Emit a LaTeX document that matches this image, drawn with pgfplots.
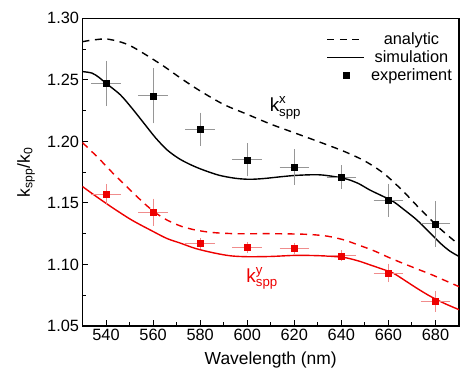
\documentclass[border=0pt]{standalone}
\usepackage{fontspec}
\setmainfont{Liberation Sans}
\usepackage{amsmath}
\usepackage{pgfplots}
\pgfplotsset{compat=1.18}
\definecolor{myred}{RGB}{238,0,0}
\definecolor{errred}{RGB}{240,140,140}
\definecolor{errgray}{RGB}{150,150,150}
\begin{document}
\begin{tikzpicture}
\path[use as bounding box] (-82.5bp,-45bp) rectangle (378.5bp,326bp);
\begin{axis}[
 scale only axis, width=376.5bp, height=307.7bp,
 at={(0,0)}, anchor=south west,
 xmin=530, xmax=690, ymin=1.05, ymax=1.30,
 xtick={540,560,580,600,620,640,660,680}, minor x tick num=1,
 ytick={1.05,1.10,1.15,1.20,1.25,1.30}, minor y tick num=1,
 tick align=inside, tick pos=left,
 major tick length=6bp, minor tick length=3.5bp,
 every tick/.style={black, line width=1bp},
 axis line style={line width=1.3bp},
 yticklabel style={/pgf/number format/.cd, fixed, fixed zerofill, precision=2},
 /pgf/number format/assume math mode=true,
 tick label style={font=\fontsize{16.4}{19}\selectfont},
 xlabel={Wavelength (nm)}, ylabel={k\textsubscript{spp}/k\textsubscript{0}},
 label style={font=\fontsize{17.5}{20}\selectfont},
 xlabel style={at={(axis description cs:0.5,0)}, anchor=base, yshift=-38bp},
 ylabel style={at={(axis description cs:-0.15,0.5)}, anchor=center},
 legend style={draw=none, fill=none, at={(rel axis cs:0.64,0.966)}, anchor=north west,
   font=\fontsize{16.4}{19}\selectfont, row sep=0.5bp, column sep=4bp},
 legend cell align=center,
 legend image code/.code={\draw[mark repeat=2,mark phase=2,#1] plot coordinates {(0bp,0bp) (18.5bp,0bp) (37bp,0bp)};},
]
\addlegendimage{black, line width=1.4bp, dash pattern=on 7bp off 5.5bp}
\addlegendentry{analytic}
\addlegendimage{black, line width=1.4bp}
\addlegendentry{simulation}
\addlegendimage{black, only marks, mark=square*, mark size=3bp}
\addlegendentry{experiment}

% analytic kx
\addplot[forget plot, black, line width=1.4bp, dash pattern=on 7bp off 5.5bp, smooth, tension=0.5] coordinates {
(530,1.281) (535,1.2825) (541,1.283) (550,1.278) (563,1.263) (572,1.251) (580,1.241)
(590,1.230) (600,1.222) (610,1.214) (620,1.207) (630,1.200) (641,1.192) (650,1.184)
(658,1.174) (666,1.160) (674,1.144) (682,1.129) (690,1.116)};
% simulation kx
\addplot[forget plot, black, line width=1.4bp, smooth, tension=0.5] coordinates {
(530,1.2567) (534,1.2555) (537,1.252) (540,1.2472) (546,1.238) (551,1.227) (556,1.215)
(561,1.203) (566,1.193) (571,1.186) (576,1.181) (581,1.177) (588,1.1725) (595,1.1700)
(601,1.1692) (607,1.1698) (614,1.1712) (621,1.1724) (631,1.1728) (641,1.170) (647,1.166)
(652,1.1606) (657,1.156) (662,1.1512) (667,1.144) (672,1.1363) (677,1.127) (682,1.1174)
(686,1.111) (690,1.1065)};
% analytic ky
\addplot[forget plot, myred, line width=1.4bp, dash pattern=on 7bp off 5.5bp, smooth, tension=0.5] coordinates {
(530,1.199) (537,1.186) (543,1.174) (550,1.161) (556,1.150) (561,1.142) (566,1.136) (572,1.131)
(578,1.128) (585,1.126) (595,1.125) (610,1.125) (625,1.1245) (634,1.123) (641,1.120) (647,1.116)
(654,1.111) (661,1.105) (670,1.098) (678,1.092) (684,1.087) (690,1.082)};
% simulation ky
\addplot[forget plot, myred, line width=1.4bp, smooth, tension=0.5] coordinates {
(530,1.1633) (536,1.155) (543,1.1458) (551,1.136) (560,1.1268) (566,1.121) (571.5,1.1174)
(578,1.113) (586,1.1093) (593,1.107) (600,1.1063) (610,1.1065) (621,1.1074) (632,1.107)
(641,1.1057) (647,1.103) (652,1.0998) (657,1.0965) (662,1.093) (667,1.087) (672,1.0808)
(677,1.075) (682,1.070) (686,1.0665) (690,1.0633)};

% experiment kx
\addplot[forget plot, only marks, mark=square*, mark size=3bp, black,
  error bars/.cd, x dir=both, x explicit, y dir=both, y explicit,
  error bar style={errgray, line width=0.8bp},
  error mark options={errgray, mark size=3bp, line width=0.8bp}]
  table[x=x, y=y, x error=ex, y error=ey] {
x y ex ey
540 1.247 5 0.016
560 1.237 5 0.020
580 1.210 5 0.011
600 1.185 5 0.011
620 1.179 5 0.012
640 1.171 5 0.007
660 1.152 5 0.011
680 1.133 5 0.016
};
% experiment ky
\addplot[forget plot, only marks, mark=square*, mark size=3bp, myred,
  error bars/.cd, x dir=both, x explicit, y dir=both, y explicit,
  error bar style={errred, line width=0.8bp},
  error mark options={errred, mark size=3bp, line width=0.8bp}]
  table[x=x, y=y, x error=ex, y error=ey] {
x y ex ey
540 1.157 5 0.006
560 1.1425 5 0.0085
580 1.117 5 0.002
600 1.114 5 0.002
620 1.113 5 0.002
640 1.107 5 0.002
660 1.093 5 0.005
680 1.070 5 0.006
};

\node[anchor=base west, inner sep=0pt, font=\fontsize{19}{21}\selectfont] at (axis cs:609.5,1.224) {$\text{k}^{\text{x}}_{\text{spp}}$};
\node[anchor=base west, inner sep=0pt, text=myred, font=\fontsize{19}{21}\selectfont] at (axis cs:599.6,1.085) {$\text{k}^{\text{y}}_{\text{spp}}$};
\end{axis}
\end{tikzpicture}
\end{document}
